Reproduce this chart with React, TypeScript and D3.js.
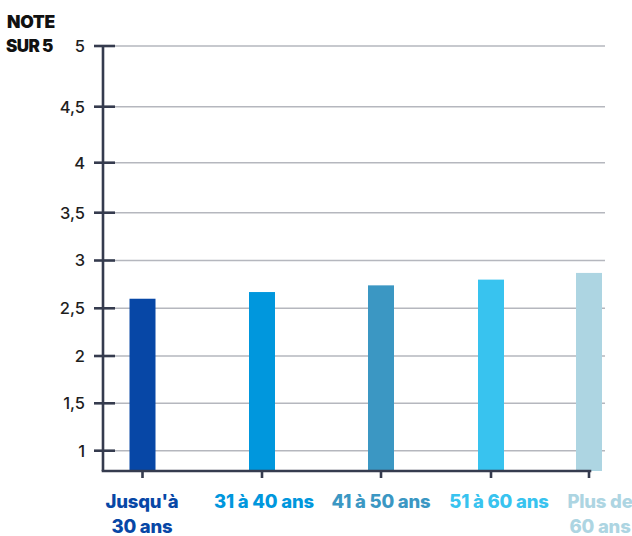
import React from "react";
import * as d3 from "d3";

// Age groups, scores out of 5, and their colours
const categories = ["Jusqu'à 30 ans", "31 à 40 ans", "41 à 50 ans", "51 à 60 ans", "Plus de 60 ans"];
const labelLines = [["Jusqu'à", "30 ans"], ["31 à 40 ans"], ["41 à 50 ans"], ["51 à 60 ans"], ["Plus de", "60 ans"]];
const scores = [2.6, 2.67, 2.74, 2.8, 2.87];
const colors = ["#0747a6", "#0097dd", "#3b97c3", "#38c3ef", "#add5e2"];
const yTicks = [1, 1.5, 2, 2.5, 3, 3.5, 4, 4.5, 5];
const yTickLabels = ["1", "1,5", "2", "2,5", "3", "3,5", "4", "4,5", "5"];

const W = 632;
const H = 536;
const axisX = 103;
const baseY = 471;
const gridEnd = 605;
const axisEnd = 590;

// The value axis is stretched toward the top: a piecewise linear scale
const yScale = d3
  .scaleLinear()
  .domain([0.79, ...yTicks])
  .range([baseY, 450.7, 403.3, 356, 308.3, 260.5, 212.7, 162.7, 106.7, 46]);

// Category centres along the baseline
const xScale = d3
  .scaleOrdinal<string, number>()
  .domain(categories)
  .range([142.5, 262, 381, 491, 589]);

const labelCenters = d3
  .scaleOrdinal<string, number>()
  .domain(categories)
  .range([142, 264, 381, 499, 600]);

const barWidth = 26;
const axisColor = "#353b4e";
const gridColor = "#b5b7be";
const font = "Inter, 'Noto Sans', sans-serif";

export default function App() {
  return (
    <svg
      width={W}
      height={H}
      style={{ position: "absolute", left: 0, top: 0, background: "#fff" }}
      fontFamily={font}
    >
      {/* title */}
      <text x={7} y={27.5} fontSize={17.5} fontWeight={900} fill="#111" letterSpacing={-0.3}>
        NOTE
      </text>
      <text x={6} y={52} fontSize={17} fontWeight={900} fill="#111" letterSpacing={-0.6}>
        SUR 5
      </text>

      {/* grid lines */}
      {yTicks.map((t) => (
        <line
          key={"g" + t}
          x1={axisX}
          x2={gridEnd}
          y1={yScale(t)}
          y2={yScale(t)}
          stroke={gridColor}
          strokeWidth={1.5}
        />
      ))}

      {/* bars */}
      {categories.map((c, i) => {
        const cx = xScale(c);
        const y = yScale(scores[i]);
        return (
          <rect key={c} x={cx - barWidth / 2} y={y} width={barWidth} height={baseY - y} fill={colors[i]} />
        );
      })}

      {/* y axis */}
      <line x1={axisX} x2={axisX} y1={yScale(5)} y2={baseY} stroke={axisColor} strokeWidth={2.6} />
      {yTicks.map((t, i) => (
        <g key={"t" + t}>
          <line x1={axisX - 9} x2={axisX + 12} y1={yScale(t)} y2={yScale(t)} stroke={axisColor} strokeWidth={2.6} />
          <text
            x={85}
            y={yScale(t)}
            dy="0.36em"
            textAnchor="end"
            fontSize={16.5}
            fontWeight={500}
            fill="#1e1e1e"
          >
            {yTickLabels[i]}
          </text>
        </g>
      ))}

      {/* x axis */}
      <line x1={axisX - 1.3} x2={axisEnd + 1.3} y1={baseY} y2={baseY} stroke={axisColor} strokeWidth={2.6} />
      {categories.map((c) => (
        <line key={"xt" + c} x1={xScale(c)} x2={xScale(c)} y1={baseY} y2={baseY + 7} stroke={axisColor} strokeWidth={2.6} />
      ))}

      {/* category labels */}
      {categories.map((c, i) => (
        <text
          key={"l" + c}
          x={labelCenters(c)}
          textAnchor="middle"
          fontSize={18.5}
          fontWeight={800}
          fill={colors[i]}
          letterSpacing={-0.2}
        >
          {labelLines[i].map((line, j) => (
            <tspan key={j} x={labelCenters(c)} y={508 + j * 25}>
              {line}
            </tspan>
          ))}
        </text>
      ))}
    </svg>
  );
}
